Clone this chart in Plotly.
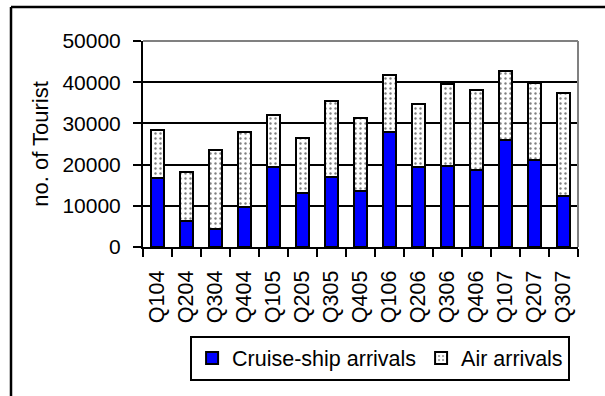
import plotly.graph_objects as go

# Quarterly tourist arrivals, Q1 2004 - Q3 2007
quarters = ["Q104", "Q204", "Q304", "Q404", "Q105", "Q205", "Q305", "Q405",
            "Q106", "Q206", "Q306", "Q406", "Q107", "Q207", "Q307"]
cruise = [16800, 6200, 4300, 9700, 19300, 13200, 17000, 13600,
          27800, 19300, 19700, 18600, 26000, 21000, 12500]
air = [11700, 12000, 19200, 18300, 12700, 13300, 18500, 17800,
       14000, 15300, 19900, 19500, 16700, 18900, 24800]

y_ticks = [0, 10000, 20000, 30000, 40000, 50000]

FONT = "Arial, 'Liberation Sans', sans-serif"

fig = go.Figure()
fig.add_trace(go.Bar(
    x=quarters, y=cruise, name="Cruise-ship arrivals",
    marker=dict(color="#0000FF", line=dict(color="black", width=2)),
))
fig.add_trace(go.Bar(
    x=quarters, y=air, name="Air arrivals",
    marker=dict(color="white", line=dict(color="black", width=2),
                pattern=dict(shape=".", fgcolor="black", bgcolor="white",
                             size=5, solidity=0.18)),
))

# plot-area geometry in pixels (used to place the outer frame)
L, R, T, B = 143, 27, 41, 149
W, H = 605, 396
pw, ph = W - L - R, H - T - B
fx = (11 - L) / pw
fy = (H - B - 7) / ph

shapes = [
    # grey top and right border of the plot area
    dict(type="line", xref="paper", yref="paper", x0=0, x1=1, y0=1, y1=1,
         line=dict(color="#808080", width=2)),
    dict(type="line", xref="paper", yref="paper", x0=1, x1=1, y0=0, y1=1,
         line=dict(color="#808080", width=2)),
    # outer chart frame
    dict(type="line", xref="paper", yref="paper", x0=fx, x1=1.2, y0=fy, y1=fy,
         line=dict(color="black", width=2.5)),
    dict(type="line", xref="paper", yref="paper", x0=fx, x1=fx, y0=-1, y1=fy,
         line=dict(color="black", width=2.5)),
]

fig.update_layout(
    barmode="stack",
    bargap=0.58,
    width=W, height=H,
    margin=dict(l=L, r=R, t=T, b=B, pad=0),
    paper_bgcolor="white", plot_bgcolor="white",
    font=dict(family=FONT, size=21, color="black"),
    showlegend=True,
    legend=dict(orientation="h", x=0.545, xanchor="center", y=-0.43, yanchor="top",
                bordercolor="black", borderwidth=2, bgcolor="white",
                font=dict(family=FONT, size=21.5, color="black"),
                traceorder="normal", itemwidth=30),
    shapes=shapes,
    xaxis=dict(
        type="category", tickangle=-90, showgrid=False,
        showline=True, linecolor="black", linewidth=2,
        ticks="outside", tickson="boundaries", ticklen=8, tickwidth=2, tickcolor="black",
        tickfont=dict(family=FONT, size=21.5), ticklabelstandoff=13,
    ),
    yaxis=dict(
        range=[0, 50000], tickvals=y_ticks, ticktext=[str(v) for v in y_ticks],
        showgrid=True, gridcolor="black", gridwidth=1.5,
        showline=True, linecolor="black", linewidth=2,
        ticks="outside", ticklen=8, tickwidth=2, tickcolor="black",
        tickfont=dict(family=FONT, size=21), ticklabelstandoff=8,
        title=dict(text="no. of Tourist", font=dict(family=FONT, size=22), standoff=8),
        zeroline=False,
    ),
)

fig.write_html("out.html")
